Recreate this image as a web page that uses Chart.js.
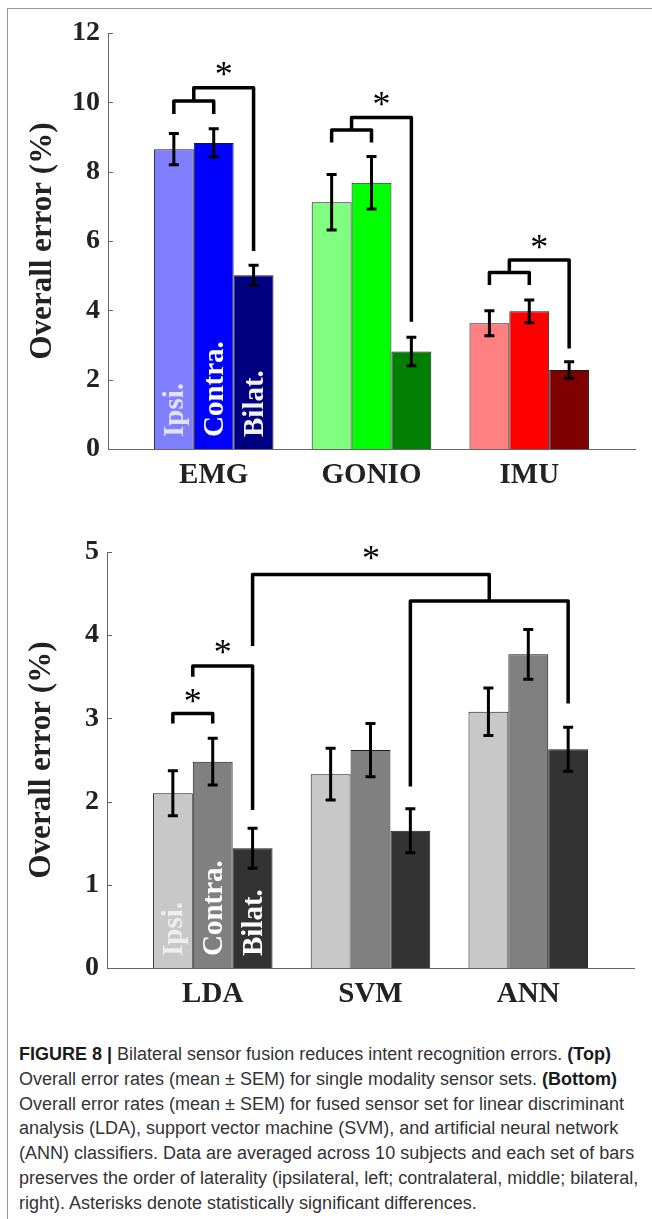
<!DOCTYPE html>
<html>
<head>
<meta charset="utf-8">
<script src="https://cdn.jsdelivr.net/npm/chart.js@4.4.1/dist/chart.umd.min.js"></script>
<style>
html,body{margin:0;padding:0;background:#fff;}
body{width:652px;height:1219px;position:relative;overflow:hidden;font-family:"Liberation Sans",Arial,sans-serif;}
#frameTop{position:absolute;left:7px;top:8px;width:645px;height:0;border-top:1px solid #999;}
#frameLeft{position:absolute;left:7px;top:8px;width:0;height:1211px;border-left:1px solid #999;}
canvas{position:absolute;left:0;}
#c1{top:0px;}
#c2{top:520px;}
#caption{position:absolute;left:19px;top:1042px;font-size:18px;line-height:24.8px;color:#333;white-space:nowrap;}
#caption b{color:#1a1a1a;}
</style>
</head>
<body>
<div id="frameTop"></div>
<div id="frameLeft"></div>
<canvas id="c1" width="652" height="510"></canvas>
<canvas id="c2" width="652" height="510"></canvas>
<div id="caption">
<b>FIGURE 8 |</b> Bilateral sensor fusion reduces intent recognition errors. <b>(Top)</b><br>
Overall error rates (mean ± SEM) for single modality sensor sets. <b>(Bottom)</b><br>
Overall error rates (mean ± SEM) for fused sensor set for linear discriminant<br>
analysis (LDA), support vector machine (SVM), and artificial neural network<br>
(ANN) classifiers. Data are averaged across 10 subjects and each set of bars<br>
preserves the order of laterality (ipsilateral, left; contralateral, middle; bilateral,<br>
right). Asterisks denote statistically significant differences.
</div>
<script>
// ---------------- DATA ----------------
const topCategories = ['EMG', 'GONIO', 'IMU'];
const bottomCategories = ['LDA', 'SVM', 'ANN'];
const lateralityLabels = ['Ipsi.', 'Contra.', 'Bilat.'];
const yTitle = 'Overall error (%)';

const topTickValues = [0, 2, 4, 6, 8, 10, 12];
const bottomTickValues = [0, 1, 2, 3, 4, 5];

// Top: single modality sensor sets (mean, SEM)
const topIpsi = [8.65, 7.12, 3.63];
const topIpsiSEM = [0.45, 0.80, 0.36];
const topContra = [8.83, 7.68, 3.97];
const topContraSEM = [0.41, 0.76, 0.33];
const topBilat = [5.01, 2.81, 2.28];
const topBilatSEM = [0.29, 0.41, 0.24];

// Bottom: fused sensor set per classifier (mean, SEM)
const bottomIpsi = [2.10, 2.33, 3.08];
const bottomIpsiSEM = [0.27, 0.31, 0.285];
const bottomContra = [2.48, 2.62, 3.77];
const bottomContraSEM = [0.28, 0.32, 0.30];
const bottomBilat = [1.44, 1.65, 2.63];
const bottomBilatSEM = [0.24, 0.265, 0.265];

// Significance brackets (values in data units; endpoints refer to bars [group, series] or to the middle of another bracket)
const topBrackets = [
  {a: {g: 0, d: 0}, b: {g: 0, d: 1}, level: 10.04, aEnd: 9.66, bEnd: 9.66, star: null},
  {a: {mid: 0}, b: {g: 0, d: 2}, level: 10.42, aEnd: 10.04, bEnd: 5.71, star: 10.96},
  {a: {g: 1, d: 0}, b: {g: 1, d: 1}, level: 9.20, aEnd: 8.84, bEnd: 8.84, star: null},
  {a: {mid: 2}, b: {g: 1, d: 2}, level: 9.56, aEnd: 9.20, bEnd: 3.67, star: 10.10},
  {a: {g: 2, d: 0}, b: {g: 2, d: 1}, level: 5.09, aEnd: 4.73, bEnd: 4.73, star: null},
  {a: {mid: 4}, b: {g: 2, d: 2}, level: 5.45, aEnd: 5.09, bEnd: 2.90, star: 5.98}
];
const bottomBrackets = [
  {a: {g: 0, d: 0}, b: {g: 0, d: 1}, level: 3.06, aEnd: 2.94, bEnd: 2.94, star: 3.27},
  {a: {mid: 0}, b: {g: 0, d: 2}, level: 3.63, aEnd: 3.50, bEnd: 1.90, star: 3.86},
  {a: {g: 1, d: 2}, b: {g: 2, d: 2}, level: 4.41, aEnd: 2.18, bEnd: 3.18, star: null},
  {a: {g: 0, d: 2}, b: {mid: 2}, level: 4.73, aEnd: 3.87, bEnd: 4.41, star: 4.99}
];

// ---------------- STYLES ----------------
const topColors = [
  ['#7f7fff', '#80ff80', '#ff8080'],
  ['#0000ff', '#00ff00', '#ff0000'],
  ['#000080', '#007f00', '#7f0000']
];
const bottomColors = [
  ['#c8c8c8', '#c8c8c8', '#c8c8c8'],
  ['#808080', '#808080', '#808080'],
  ['#333333', '#333333', '#333333']
];
const topLabelColors = ['#e2e2f6', '#ffffff', '#f2f2f2'];
const bottomLabelColors = ['#eeeeee', '#ffffff', '#ffffff'];
const SERIF = '"Liberation Serif", "Times New Roman", serif';
const TEXT = '#222';

function annotPlugin(sems, brackets, labelColors) {
  return {
    id: 'annot',
    afterDatasetsDraw(chart) {
      const ctx = chart.ctx, ys = chart.scales.y, area = chart.chartArea;
      const py = v => ys.getPixelForValue(v);
      ctx.save();
      // inward tick marks on y axis
      ctx.strokeStyle = '#666'; ctx.lineWidth = 1;
      ys.ticks.forEach(t => {
        const p = Math.round(py(t.value)) + 0.5;
        ctx.beginPath(); ctx.moveTo(area.left, p); ctx.lineTo(area.left + 5, p); ctx.stroke();
      });
      // in-bar laterality labels (first group)
      ctx.font = 'bold 29px ' + SERIF;
      const capH = ctx.measureText('H').actualBoundingBoxAscent;
      lateralityLabels.forEach((lab, d) => {
        const bar = chart.getDatasetMeta(d).data[0];
        ctx.save();
        ctx.translate(bar.x, area.bottom - 12);
        ctx.rotate(-Math.PI / 2);
        ctx.fillStyle = labelColors[d];
        ctx.textAlign = 'left'; ctx.textBaseline = 'alphabetic';
        ctx.fillText(lab, 0, capH / 2);
        ctx.restore();
      });
      // error bars
      ctx.strokeStyle = '#000'; ctx.lineWidth = 3; ctx.lineCap = 'butt';
      chart.data.datasets.forEach((ds, d) => {
        chart.getDatasetMeta(d).data.forEach((bar, i) => {
          const v = ds.data[i].y, e = sems[d][i];
          const x = bar.x, yt = py(v + e), yb = py(v - e);
          ctx.beginPath();
          ctx.moveTo(x, yt); ctx.lineTo(x, yb);
          ctx.moveTo(x - 5, yt); ctx.lineTo(x + 5, yt);
          ctx.moveTo(x - 5, yb); ctx.lineTo(x + 5, yb);
          ctx.stroke();
        });
      });
      // brackets
      const mids = [];
      const refX = r => r.mid !== undefined ? mids[r.mid] : chart.getDatasetMeta(r.d).data[r.g].x;
      ctx.lineWidth = 3.5; ctx.lineJoin = 'round';
      ctx.font = '36px ' + SERIF;
      const sm = ctx.measureText('*');
      brackets.forEach(br => {
        const xa = refX(br.a), xb = refX(br.b);
        mids.push((xa + xb) / 2);
        ctx.beginPath();
        ctx.moveTo(xa, py(br.aEnd)); ctx.lineTo(xa, py(br.level));
        ctx.lineTo(xb, py(br.level)); ctx.lineTo(xb, py(br.bEnd));
        ctx.stroke();
        if (br.star !== null) {
          ctx.fillStyle = '#000'; ctx.textAlign = 'center'; ctx.textBaseline = 'alphabetic';
          const yc = py(br.star) + (sm.actualBoundingBoxAscent - sm.actualBoundingBoxDescent) / 2;
          ctx.fillText('*', (xa + xb) / 2, yc);
        }
      });
      ctx.restore();
    }
  };
}

function makeChart(id, cats, series, sems, colors, ticks, brackets, labelColors, pad, xHeight) {
  const datasets = series.map((vals, d) => ({
    label: lateralityLabels[d],
    data: vals.map((v, i) => ({x: i + 1, y: v})),
    backgroundColor: colors[d],
    borderColor: '#1a1a1a',
    borderWidth: 1,
    categoryPercentage: 0.758,
    barPercentage: 1.0
  }));
  return new Chart(document.getElementById(id), {
    type: 'bar',
    data: {datasets},
    options: {
      responsive: false,
      animation: false,
      devicePixelRatio: 1,
      layout: {padding: pad},
      plugins: {legend: {display: false}, tooltip: {enabled: false}},
      scales: {
        x: {
          type: 'linear', min: 0.33, max: 3.67, offset: false,
          grid: {display: false, drawTicks: false},
          border: {display: true, color: '#666', width: 1},
          afterBuildTicks: s => { s.ticks = cats.map((c, i) => ({value: i + 1})); },
          ticks: {callback: v => cats[Math.round(v) - 1] || '', font: {family: SERIF, size: 29, weight: 'bold'}, color: TEXT, padding: 9, maxRotation: 0, autoSkip: false},
          afterFit: s => { s.height = xHeight; }
        },
        y: {
          type: 'linear', min: ticks[0], max: ticks[ticks.length - 1],
          grid: {display: false, drawTicks: false},
          border: {display: true, color: '#666', width: 1},
          afterBuildTicks: s => { s.ticks = ticks.map(v => ({value: v})); },
          ticks: {font: {family: SERIF, size: 28, weight: 'bold'}, color: TEXT, padding: 8},
          title: {display: true, text: yTitle, font: {family: SERIF, size: 31, weight: 'bold'}, color: TEXT, padding: {top: 14, bottom: 0}},
          afterFit: s => { s.width = 98; }
        }
      }
    },
    plugins: [annotPlugin(sems, brackets, labelColors)]
  });
}

makeChart('c1', topCategories, [topIpsi, topContra, topBilat],
  [topIpsiSEM, topContraSEM, topBilatSEM], topColors, topTickValues, topBrackets, topLabelColors,
  {left: 10, right: 17, top: 33, bottom: 0}, 61);
makeChart('c2', bottomCategories, [bottomIpsi, bottomContra, bottomBilat],
  [bottomIpsiSEM, bottomContraSEM, bottomBilatSEM], bottomColors, bottomTickValues, bottomBrackets, bottomLabelColors,
  {left: 9, right: 18, top: 32, bottom: 0}, 62);
</script>
</body>
</html>
